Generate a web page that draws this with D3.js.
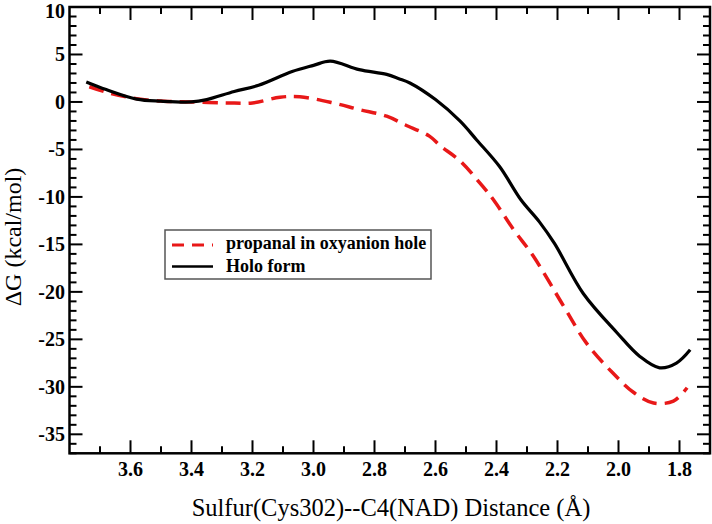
<!DOCTYPE html>
<html><head><meta charset="utf-8">
<script src="https://cdn.jsdelivr.net/npm/d3@7"></script>
<style>body{margin:0;background:#fff}svg{display:block}</style>
</head><body>
<script>
// ---- data ----
const holoX = [3.745,3.68,3.58,3.50,3.40,3.35,3.26,3.18,3.07,3.00,2.945,2.85,2.76,2.72,2.684,2.60,2.52,2.465,2.39,2.32,2.26,2.21,2.115,2.005,1.93,1.865,1.81,1.765];
const holoY = [2.1,1.3,0.3,0.08,0.0,0.25,1.1,1.75,3.2,3.85,4.3,3.4,2.9,2.45,2.0,0.25,-2.0,-4.0,-6.8,-10.3,-12.6,-14.9,-20.2,-24.3,-26.8,-28.0,-27.5,-26.1];
const propX = [3.735,3.67,3.58,3.49,3.40,3.285,3.20,3.11,3.045,2.935,2.85,2.76,2.70,2.62,2.585,2.52,2.445,2.41,2.345,2.28,2.18,2.105,2.02,1.95,1.885,1.82,1.775];
const propY = [1.6,0.95,0.35,0.07,0.0,-0.1,-0.1,0.5,0.55,-0.1,-0.8,-1.5,-2.4,-3.6,-4.6,-6.2,-8.9,-10.3,-13.4,-16.2,-21.5,-25.4,-28.5,-30.6,-31.7,-31.5,-30.1];
const xTicks = [3.6,3.4,3.2,3.0,2.8,2.6,2.4,2.2,2.0,1.8];
const xTickLabels = ["3.6","3.4","3.2","3.0","2.8","2.6","2.4","2.2","2.0","1.8"];
const yTicks = [10,5,0,-5,-10,-15,-20,-25,-30,-35];
const seriesNames = ["propanal in oxyanion hole","Holo form"];

const serif = '"Liberation Serif","Times New Roman","DejaVu Serif",serif';

const W = 712, H = 524;
const L = 69.5, R = 710, T = 7, B = 453.3;
const svg = d3.select("body").append("svg").attr("width", W).attr("height", H);

const x = d3.scaleLinear().domain([3.8, 1.7]).range([L, R]);
const y = d3.scaleLinear().domain([10, -37]).range([T, B]);

// curves
const line = d3.line().x(d => x(d[0])).y(d => y(d[1])).curve(d3.curveCatmullRom.alpha(0.5));
const prop = propX.map((v, i) => [v, propY[i]]);
const holo = holoX.map((v, i) => [v, holoY[i]]);

svg.append("path").attr("d", line(prop)).attr("fill", "none")
  .attr("stroke", "#e81818").attr("stroke-width", 3.5).attr("stroke-dasharray", "15,8");
svg.append("path").attr("d", line(holo)).attr("fill", "none")
  .attr("stroke", "#000").attr("stroke-width", 3.2);

// axes
const minorX = d3.range(37, 17, -1).map(v => v / 10).filter(v => v <= 3.8 && v >= 1.7);
const minorY = d3.range(-37, 11, 1);

const g = svg.append("g").attr("stroke", "#000").attr("stroke-width", 2);
minorX.forEach(v => {
  const maj = xTicks.some(t => Math.abs(t - v) < 1e-6);
  const len = maj ? 13 : 7;
  g.append("line").attr("x1", x(v)).attr("x2", x(v)).attr("y1", B).attr("y2", B - len);
  g.append("line").attr("x1", x(v)).attr("x2", x(v)).attr("y1", T).attr("y2", T + len);
});
minorY.forEach(v => {
  const maj = v % 5 === 0;
  const len = maj ? 13 : 7;
  g.append("line").attr("y1", y(v)).attr("y2", y(v)).attr("x1", L).attr("x2", L + len);
  g.append("line").attr("y1", y(v)).attr("y2", y(v)).attr("x1", R).attr("x2", R - len);
});
svg.append("rect").attr("x", L).attr("y", T).attr("width", R - L).attr("height", B - T)
  .attr("fill", "none").attr("stroke", "#000").attr("stroke-width", 2.5);

// tick labels
xTicks.forEach((t, i) => {
  svg.append("text").attr("x", x(t)).attr("y", 476).attr("text-anchor", "middle")
    .style("font-family", serif).attr("font-weight", "bold").attr("font-size", 20).text(xTickLabels[i]);
});
yTicks.forEach(t => {
  svg.append("text").attr("x", 65).attr("y", Math.max(y(t), 10.5)).attr("dy", "0.35em").attr("text-anchor", "end")
    .style("font-family", serif).attr("font-weight", "bold").attr("font-size", 20).text(t);
});

// axis titles
svg.append("text").attr("x", 391).attr("y", 516).attr("text-anchor", "middle")
  .style("font-family", serif).attr("font-size", 24.5).text("Sulfur(Cys302)--C4(NAD) Distance (Å)");
svg.append("text").attr("transform", "translate(21,237) rotate(-90)").attr("text-anchor", "middle")
  .style("font-family", serif).attr("font-size", 24).text("ΔG (kcal/mol)");

// legend
const lg = svg.append("g");
lg.append("rect").attr("x", 165).attr("y", 230).attr("width", 266).attr("height", 49)
  .attr("fill", "#fff").attr("stroke", "#555").attr("stroke-width", 1.5);
lg.append("line").attr("x1", 172).attr("x2", 213).attr("y1", 245).attr("y2", 245)
  .attr("stroke", "#e81818").attr("stroke-width", 3).attr("stroke-dasharray", "12,8");
lg.append("line").attr("x1", 172).attr("x2", 213).attr("y1", 266.5).attr("y2", 266.5)
  .attr("stroke", "#000").attr("stroke-width", 2.5);
[249, 272].forEach((yy, i) => {
  lg.append("text").attr("x", 226).attr("y", yy).style("font-family", serif)
    .attr("font-weight", "bold").attr("font-size", 18).text(seriesNames[i]);
});
</script>
</body></html>
